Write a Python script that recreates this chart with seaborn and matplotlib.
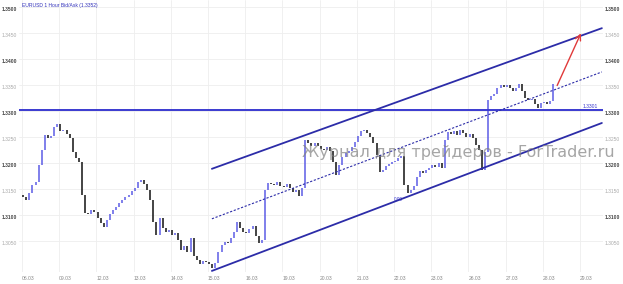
import numpy as np
import pandas as pd
import matplotlib
matplotlib.use("Agg")
import matplotlib.pyplot as plt
import seaborn as sns

# ---------------- data ----------------
title = "EURUSD 1 Hour Bid/Ask (1.3352)"
watermark = "Журнал для трейдеров - ForTrader.ru"
day_labels = ["06.03", "09.03", "12.03", "13.03", "14.03", "15.03", "16.03", "19.03",
              "20.03", "21.03", "22.03", "23.03", "26.03", "27.03", "28.03", "29.03"]
price_ticks = [1.3050, 1.3100, 1.3150, 1.3200, 1.3250, 1.3300, 1.3350, 1.3400, 1.3450, 1.3500]

# 2-hour closes (12 per day)
closes = [
    1.3139, 1.3135, 1.3129, 1.3143, 1.3158, 1.3164, 1.3196, 1.3225, 1.3254, 1.3248, 1.3252, 1.3269,
    1.3275, 1.3262, 1.3264, 1.3256, 1.3248, 1.3221, 1.3210, 1.3202, 1.3139, 1.3104, 1.3102, 1.3110,
    1.3106, 1.3095, 1.3085, 1.3077, 1.3091, 1.3102, 1.3110, 1.3116, 1.3123, 1.3129, 1.3135, 1.3139,
    1.3146, 1.3152, 1.3164, 1.3168, 1.3160, 1.3148, 1.3129, 1.3087, 1.3062, 1.3095, 1.3075, 1.3068,
    1.3072, 1.3062, 1.3066, 1.3052, 1.3033, 1.3041, 1.3029, 1.3056, 1.3022, 1.3014, 1.3006, 1.3012,
    1.3010, 1.3006, 1.2999, 1.3008, 1.3029, 1.3043, 1.3049, 1.3047, 1.3056, 1.3068, 1.3087, 1.3075,
    1.3068, 1.3066, 1.3073, 1.3079, 1.3060, 1.3047, 1.3052, 1.3148, 1.3162, 1.3160, 1.3158, 1.3164,
    1.3156, 1.3154, 1.3160, 1.3152, 1.3144, 1.3148, 1.3137, 1.3152, 1.3244, 1.3239, 1.3233, 1.3239,
    1.3233, 1.3227, 1.3225, 1.3231, 1.3223, 1.3202, 1.3177, 1.3196, 1.3212, 1.3219, 1.3223, 1.3231,
    1.3240, 1.3252, 1.3262, 1.3264, 1.3258, 1.3250, 1.3239, 1.3216, 1.3183, 1.3187, 1.3194, 1.3198,
    1.3202, 1.3204, 1.3210, 1.3214, 1.3158, 1.3143, 1.3148, 1.3156, 1.3173, 1.3185, 1.3181, 1.3187,
    1.3191, 1.3196, 1.3192, 1.3200, 1.3191, 1.3244, 1.3260, 1.3256, 1.3262, 1.3254, 1.3264, 1.3258,
    1.3250, 1.3256, 1.3248, 1.3235, 1.3225, 1.3187, 1.3221, 1.3321, 1.3329, 1.3333, 1.3344, 1.3350,
    1.3346, 1.3350, 1.3344, 1.3338, 1.3344, 1.3352, 1.3338, 1.3325, 1.3321, 1.3323, 1.3313, 1.3306,
    1.3315, 1.3317, 1.3313, 1.3319, 1.3352,
]

level_price = 1.3301
level_label = "1.3301"
level_x = [-0.6, 188.0]

channel_x = [61.9, 187.7]
channel_upper = [1.3189, 1.3459]
channel_mid = [1.3093, 1.3375]
channel_lower = [1.2993, 1.3277]

arrow_x = [172.9, 181.3]
arrow_y = [1.3344, 1.3454]

fib_label = "0.00"
fib_pos = (121.9, 1.3131)

# ---------------- style ----------------
sns.set_theme(style="white")
plt.rcParams["font.family"] = ["Liberation Sans", "DejaVu Sans"]

UP = "#5c5ce6"
DOWN = "#111111"
CHAN = "#2c2ca8"
FS = 3.6

W, H = 623, 284
fig = plt.figure(figsize=(W / 100, H / 100), dpi=100)
ax = fig.add_axes([19 / W, 12 / H, (603 - 19) / W, 272 / H])
ax.set_facecolor("white")

px_per_price = 1 / 0.000192
ax.set_xlim(-1 / 3.1, 583 / 3.1)
ax.set_ylim(1.33 - 161 / px_per_price, 1.33 + 111 / px_per_price)

# grid
xticks = [0.645 + 12 * i for i in range(len(day_labels))]
ax.set_xticks(xticks)
ax.set_xticklabels(day_labels)
ax.set_yticks(price_ticks)
ax.set_yticklabels([f"{p:.4f}" for p in price_ticks])
ax.grid(True, color="#eeeeee", lw=0.6)
for s in ax.spines.values():
    s.set_visible(False)

ax.tick_params(axis="x", length=0, pad=3, labelsize=FS, labelcolor="#888888")
ax.tick_params(axis="y", length=0, pad=1.5, labelsize=FS, labelleft=True, labelright=True)
for lab in ax.get_xticklabels():
    lab.set_horizontalalignment("left")
for t, p in zip(ax.yaxis.get_major_ticks(), price_ticks):
    strong = abs(round(p * 100) - p * 100) < 1e-6
    for lab in (t.label1, t.label2):
        lab.set_verticalalignment("top")
        lab.set_color("#444444" if strong else "#aaaaaa")
        if strong:
            lab.set_fontweight("bold")

# candles
bx = np.arange(len(closes))
c = np.array(closes)
o = np.concatenate([[closes[0]], c[:-1]])
up = c >= o
ax.vlines(bx[up], o[up], c[up], color=UP, lw=1.1, zorder=3)
ax.vlines(bx[~up], c[~up], o[~up], color=DOWN, lw=1.1, zorder=3)

# level line
sns.lineplot(x=level_x, y=[level_price, level_price], ax=ax, color="#3a3ad0", lw=1.4, zorder=4)
ax.text(level_x[1] - 1.5, level_price + 0.0002, level_label, ha="right", va="bottom",
        fontsize=FS, color="#3a3ad0")

# channel
sns.lineplot(x=channel_x, y=channel_upper, ax=ax, color=CHAN, lw=1.3, zorder=4)
sns.lineplot(x=channel_x, y=channel_lower, ax=ax, color=CHAN, lw=1.3, zorder=4)
sns.lineplot(x=channel_x, y=channel_mid, ax=ax, color=CHAN, lw=0.8, zorder=4)
ax.lines[-1].set_linestyle((0, (2, 1.5)))

ax.text(fib_pos[0], fib_pos[1], fib_label, fontsize=3.4, color="#3a3ad0", ha="center", va="center")

# arrow
ax.annotate("", xy=(arrow_x[1], arrow_y[1]), xytext=(arrow_x[0], arrow_y[0]),
            arrowprops=dict(arrowstyle="->", color="#e03a3a", lw=1.0, mutation_scale=10), zorder=5)

# texts
fig.text(22 / W, 1 - 5 / H, title, fontsize=FS, color="#3333bb", va="center", ha="left")
fig.text(458 / W, 1 - 152 / H, watermark, fontsize=11.5, color="#808080", alpha=0.7,
         ha="center", va="center", family=["DejaVu Sans"], zorder=10)

fig.savefig("out.png", dpi=100, facecolor="white")
